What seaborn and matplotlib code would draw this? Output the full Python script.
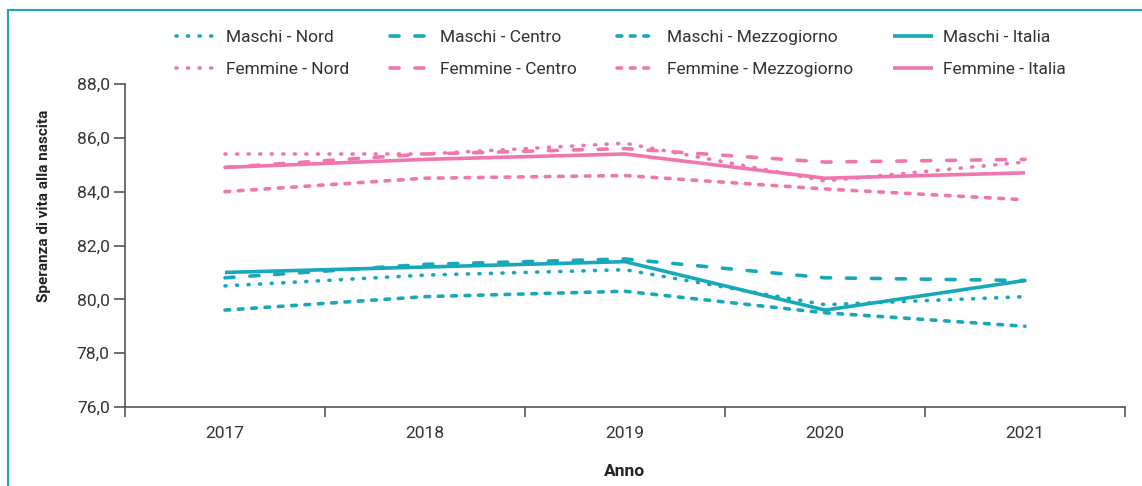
import matplotlib
matplotlib.use("Agg")
import matplotlib.pyplot as plt
import seaborn as sns
import pandas as pd
from matplotlib.patches import Rectangle
from matplotlib.ticker import FixedLocator, FuncFormatter

years = ["2017", "2018", "2019", "2020", "2021"]

maschi_nord = [80.5, 80.9, 81.1, 79.8, 80.1]
maschi_centro = [80.8, 81.3, 81.5, 80.8, 80.7]
maschi_mezzogiorno = [79.6, 80.1, 80.3, 79.5, 79.0]
maschi_italia = [81.0, 81.2, 81.4, 79.6, 80.7]
femmine_nord = [85.4, 85.4, 85.8, 84.4, 85.1]
femmine_centro = [84.9, 85.4, 85.6, 85.1, 85.2]
femmine_mezzogiorno = [84.0, 84.5, 84.6, 84.1, 83.7]
femmine_italia = [84.9, 85.2, 85.4, 84.5, 84.7]

series_names = ["Maschi - Nord", "Femmine - Nord", "Maschi - Centro", "Femmine - Centro",
                "Maschi - Mezzogiorno", "Femmine - Mezzogiorno", "Maschi - Italia", "Femmine - Italia"]
series_values = [maschi_nord, femmine_nord, maschi_centro, femmine_centro,
                 maschi_mezzogiorno, femmine_mezzogiorno, maschi_italia, femmine_italia]

TEAL = "#17A8BA"
PINK = "#F077AE"

sns.set_theme(style="white")
FONT = "Roboto"
FS = 12.5
plt.rcParams["font.family"] = [FONT, "DejaVu Sans"]

fig = plt.figure(figsize=(11.42, 4.86), dpi=100)
ax = fig.add_axes([125 / 1142, 1 - 407 / 486, 1000 / 1142, (407 - 84) / 486])

LW = 2.6
styles = {
    "Nord": (0.3, 2.9),
    "Centro": (2.5, 4.4),
    "Mezzogiorno": (1.3, 2.4),
    "Italia": None,
}

handles = []
for name, vals in zip(series_names, series_values):
    color = TEAL if name.startswith("Maschi") else PINK
    region = name.split(" - ")[1]
    st = styles[region]
    df = pd.DataFrame({"x": list(range(len(years))), "y": vals})
    n0 = len(ax.lines)
    sns.lineplot(data=df, x="x", y="y", ax=ax, color=color, linewidth=LW, legend=False)
    line = ax.lines[n0]
    if st is not None:
        line.set_dashes(st)
        line.set_dash_capstyle("round")
    else:
        line.set_solid_capstyle("butt")
    handles.append(line)

if ax.get_legend() is not None:
    ax.get_legend().remove()

ax.set_xlim(-0.5, 4.5)
ax.set_ylim(76, 88)
ax.set_yticks([76, 78, 80, 82, 84, 86, 88])
ax.yaxis.set_major_formatter(FuncFormatter(lambda v, p: f"{v:.1f}".replace(".", ",")))
ax.set_xticks(range(len(years)))
ax.set_xticklabels(years)
ax.xaxis.set_minor_locator(FixedLocator([-0.5, 0.5, 1.5, 2.5, 3.5, 4.5]))
ax.tick_params(axis="x", which="major", length=0, pad=14, labelsize=FS, labelcolor="#333333")
ax.tick_params(axis="x", which="minor", length=7, width=1.2, color="#555555", direction="out", bottom=True)
ax.tick_params(axis="y", which="major", length=8, width=1.2, color="#555555", direction="out", left=True,
               labelsize=FS, labelcolor="#333333", pad=3)
for s in ["top", "right"]:
    ax.spines[s].set_visible(False)
for s in ["left", "bottom"]:
    ax.spines[s].set_color("#555555")
    ax.spines[s].set_linewidth(1.2)

ax.set_xlabel("Anno", fontsize=FS, fontweight="bold", color="#222222", labelpad=16)
ax.set_ylabel("Speranza di vita alla nascita", fontsize=11, fontweight="bold", color="#222222")
ax.yaxis.set_label_coords(-0.074, 0.622)

fig.legend(handles=handles, labels=series_names, ncol=4, loc="upper left",
           bbox_to_anchor=(176 / 1142, 1 - 30 / 486), frameon=False, fontsize=FS, handlelength=2.3,
           columnspacing=2.3, handletextpad=0.6, labelspacing=0.95, borderpad=0, borderaxespad=0,
           labelcolor="#333333")

fig.patches.append(Rectangle((8 / 1142, -0.1), 1.1, 1 - 10 / 486 + 0.1, transform=fig.transFigure,
                             fill=False, edgecolor=TEAL, linewidth=1.5, figure=fig))

fig.savefig("out.png", dpi=100)
